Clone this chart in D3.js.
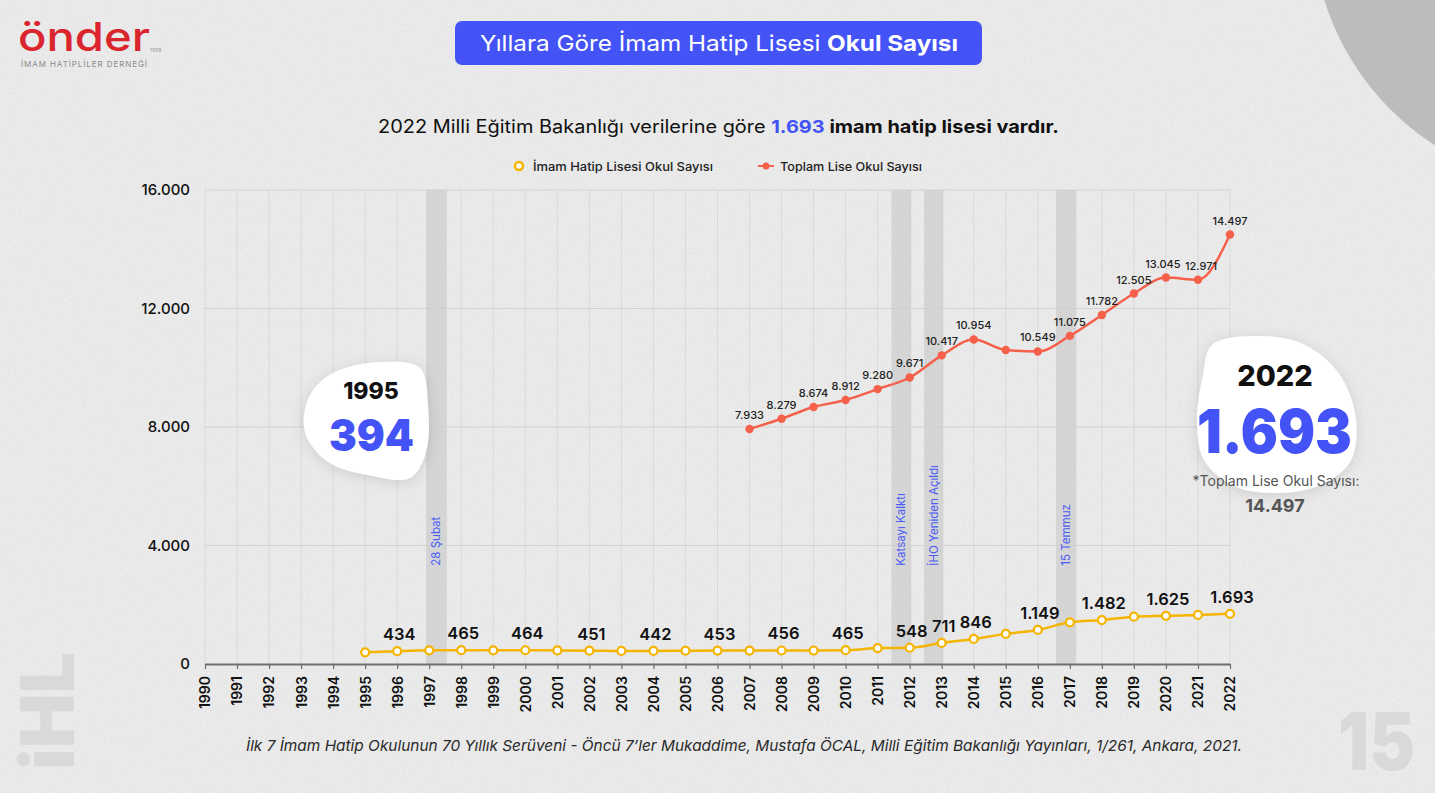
<!DOCTYPE html>
<html lang="tr">
<head>
<meta charset="utf-8">
<script src="https://cdn.jsdelivr.net/npm/d3@7"></script>
<style>
  html, body { margin: 0; padding: 0; background: #ececec; }
  svg { display: block; font-family: Inter, "Noto Sans", sans-serif; }
</style>
</head>
<body>
<div id="chart"></div>
<script>
var svgWidth = 1435;
var svgHeight = 793;

var margin = { top: 190, right: 205, bottom: 129, left: 205 };
var width = svgWidth - margin.left - margin.right;
var height = svgHeight - margin.top - margin.bottom;

// data
var years = d3.range(1990, 2023);
var yTicks = [0, 4000, 8000, 12000, 16000];

var ihlYears = [1995, 1996, 1997, 1998, 1999, 2000, 2001, 2002, 2003, 2004, 2005, 2006, 2007, 2008,
  2009, 2010, 2011, 2012, 2013, 2014, 2015, 2016, 2017, 2018, 2019, 2020, 2021, 2022];
var ihlValues = [394, 434, 462, 465, 463, 464, 458, 451, 440, 442, 448, 453, 452, 456,
  455, 465, 537, 548, 711, 846, 1017, 1149, 1408, 1482, 1597, 1625, 1655, 1693];
var ihlLabelYears = [1996, 1998, 2000, 2002, 2004, 2006, 2008, 2010, 2012, 2013, 2014, 2016, 2018, 2020, 2022];

var totalYears = [2007, 2008, 2009, 2010, 2011, 2012, 2013, 2014, 2015, 2016, 2017, 2018, 2019, 2020, 2021, 2022];
var totalValues = [7933, 8279, 8674, 8912, 9280, 9671, 10417, 10954, 10600, 10549, 11075, 11782, 12505, 13045, 12971, 14497];
var totalLabelYears = [2007, 2008, 2009, 2010, 2011, 2012, 2013, 2014, 2016, 2017, 2018, 2019, 2020, 2021, 2022];

var eventLabels = ["28 Şubat", "Katsayı Kalktı", "İHO Yeniden Açıldı", "15 Temmuz"];
var eventStart = [1996.9, 2011.43, 2012.45, 2016.57];
var eventEnd = [1997.55, 2012.05, 2013.05, 2017.2];

var blue = "#4353f5";
var yellow = "#f5b400";
var red = "#f4604a";

var tr = d3.formatLocale({ decimal: ",", thousands: ".", grouping: [3], currency: ["", ""] });
var fmt = tr.format(",d");

var svg = d3.select("#chart")
  .append("svg")
  .attr("width", svgWidth)
  .attr("height", svgHeight);

var defs = svg.append("defs");
var noise = defs.append("filter").attr("id", "noise").attr("x", 0).attr("y", 0).attr("width", "100%").attr("height", "100%");
noise.append("feTurbulence").attr("type", "fractalNoise").attr("baseFrequency", 0.7).attr("numOctaves", 2).attr("seed", 4);
noise.append("feColorMatrix").attr("type", "matrix")
  .attr("values", "0 0 0 0 0.45  0 0 0 0 0.45  0 0 0 0 0.45  0.3 0 0 0 -0.1");
var shadow = defs.append("filter").attr("id", "shadow").attr("x", "-30%").attr("y", "-30%").attr("width", "160%").attr("height", "160%");
shadow.append("feDropShadow").attr("dx", 0).attr("dy", 2).attr("stdDeviation", 7)
  .attr("flood-color", "#000").attr("flood-opacity", 0.12);

// background
svg.append("rect").attr("width", svgWidth).attr("height", svgHeight).attr("fill", "#ececec");
svg.append("rect").attr("width", svgWidth).attr("height", svgHeight).attr("filter", "url(#noise)");
svg.append("circle").attr("cx", 1580).attr("cy", -80).attr("r", 268).attr("fill", "#bcbcbc");

// faded corner marks
svg.append("text")
  .attr("transform", "translate(74,770) rotate(-90)")
  .attr("font-size", 74).attr("font-weight", 900).attr("fill", "#d9d9d9")
  .attr("textLength", 118).attr("lengthAdjust", "spacingAndGlyphs")
  .text("iHL");
svg.append("text")
  .attr("x", 1338).attr("y", 770)
  .attr("font-size", 80).attr("font-weight", 900).attr("fill", "#d9d9d9")
  .attr("textLength", 77).attr("lengthAdjust", "spacingAndGlyphs")
  .text("15");

// logo
svg.append("text")
  .attr("x", 18).attr("y", 51)
  .attr("font-size", 40).attr("font-weight", 500).attr("fill", "#d9252b")
  .attr("textLength", 132).attr("lengthAdjust", "spacingAndGlyphs")
  .text("önder");
svg.append("text")
  .attr("x", 150).attr("y", 52)
  .attr("font-size", 5).attr("fill", "#999")
  .text("1958");
svg.append("text")
  .attr("x", 21).attr("y", 67)
  .attr("font-size", 8).attr("fill", "#8a8a8a")
  .attr("textLength", 126).attr("lengthAdjust", "spacing")
  .text("İMAM HATİPLİLER DERNEĞİ");

// title banner
svg.append("rect")
  .attr("x", 455).attr("y", 21).attr("width", 527).attr("height", 44).attr("rx", 7)
  .attr("fill", blue);
var title = svg.append("text")
  .attr("x", 719).attr("y", 51)
  .attr("text-anchor", "middle")
  .attr("font-size", 22).attr("fill", "#fff")
  .attr("textLength", 478).attr("lengthAdjust", "spacingAndGlyphs");
title.append("tspan").attr("font-weight", 400).text("Yıllara Göre İmam Hatip Lisesi ");
title.append("tspan").attr("font-weight", 700).text("Okul Sayısı");

// subtitle
var sub = svg.append("text")
  .attr("x", 718.5).attr("y", 133)
  .attr("text-anchor", "middle")
  .attr("font-size", 18).attr("fill", "#111")
  .attr("textLength", 681).attr("lengthAdjust", "spacingAndGlyphs");
sub.append("tspan").attr("font-weight", 400).text("2022 Milli Eğitim Bakanlığı verilerine göre ");
sub.append("tspan").attr("font-weight", 700).attr("fill", blue).text("1.693");
sub.append("tspan").attr("font-weight", 700).text(" imam hatip lisesi vardır.");

// legend
var legend = svg.append("g").attr("font-size", 12).attr("font-weight", 500).attr("fill", "#222");
legend.append("circle").attr("cx", 519).attr("cy", 166).attr("r", 4)
  .attr("fill", "#fff").attr("stroke", yellow).attr("stroke-width", 2.5);
legend.append("text").attr("x", 533).attr("y", 170.5)
  .attr("textLength", 180).attr("lengthAdjust", "spacingAndGlyphs")
  .text("İmam Hatip Lisesi Okul Sayısı");
legend.append("line").attr("x1", 758).attr("x2", 774).attr("y1", 166).attr("y2", 166)
  .attr("stroke", red).attr("stroke-width", 2);
legend.append("circle").attr("cx", 766).attr("cy", 166).attr("r", 3.5).attr("fill", red);
legend.append("text").attr("x", 780).attr("y", 170.5)
  .attr("textLength", 142).attr("lengthAdjust", "spacingAndGlyphs")
  .text("Toplam Lise Okul Sayısı");

// chart group
var chartGroup = svg.append("g")
  .attr("transform", `translate(${margin.left}, ${margin.top})`);

var x = d3.scaleLinear().domain([1990, 2022]).range([0, width]);
var y = d3.scaleLinear().domain([0, 16000]).range([height, 0]);

// grid
chartGroup.append("g").selectAll("line")
  .data(years)
  .enter().append("line")
  .attr("x1", d => x(d)).attr("x2", d => x(d))
  .attr("y1", 0).attr("y2", height)
  .attr("stroke", "#d9d9d9").attr("stroke-width", 1);
chartGroup.append("g").selectAll("line")
  .data(yTicks.slice(1))
  .enter().append("line")
  .attr("x1", 0).attr("x2", width)
  .attr("y1", d => y(d)).attr("y2", d => y(d))
  .attr("stroke", "#d2d2d2").attr("stroke-width", 1);

// event bands
var events = eventLabels.map((t, i) => ({ label: t, start: eventStart[i], end: eventEnd[i] }));
chartGroup.append("g").selectAll("rect")
  .data(events)
  .enter().append("rect")
  .attr("x", d => x(d.start))
  .attr("width", d => x(d.end) - x(d.start))
  .attr("y", 0).attr("height", height)
  .attr("fill", "#cdcdcd").attr("opacity", 0.75);
chartGroup.append("g").selectAll("text")
  .data(events)
  .enter().append("text")
  .attr("transform", d => `translate(${(x(d.start) + x(d.end)) / 2 + 4}, ${y(3320)}) rotate(-90)`)
  .attr("font-size", 11.5).attr("fill", "#4a5cf5")
  .text(d => d.label);

// y axis
var leftAxis = d3.axisLeft(y).tickValues(yTicks).tickFormat(fmt).tickSize(0).tickPadding(15);
var yAxis = chartGroup.append("g").call(leftAxis);
yAxis.select(".domain").remove();
yAxis.selectAll("text")
  .attr("font-family", "Inter, sans-serif")
  .attr("font-size", 15).attr("font-weight", 500).attr("fill", "#111");

// x axis
var bottomAxis = d3.axisBottom(x).tickValues(years).tickFormat(d3.format("d")).tickSize(5).tickSizeOuter(0);
var xAxis = chartGroup.append("g")
  .attr("transform", `translate(0, ${height})`)
  .call(bottomAxis);
xAxis.select(".domain").attr("stroke", "#6e6e6e").attr("stroke-width", 2);
xAxis.selectAll(".tick line").attr("stroke", "#6e6e6e").attr("stroke-width", 1.2);
xAxis.selectAll("text")
  .attr("font-family", "Inter, sans-serif")
  .attr("font-size", 14).attr("font-weight", 600).attr("fill", "#111")
  .attr("text-anchor", "end")
  .attr("transform", "rotate(-90)")
  .attr("x", -12).attr("y", 0).attr("dy", "0.35em");

// callout blobs (decor behind lines)
var blob = d3.line().curve(d3.curveCatmullRomClosed.alpha(0.5));
var blob1995 = [[335, 372], [382, 362], [420, 368], [428, 405], [426, 452], [410, 478], [368, 475], [328, 462], [305, 432], [310, 395]];
var blob2022 = [[1212, 345], [1260, 336], [1305, 345], [1340, 375], [1356, 420], [1350, 462], [1318, 486], [1275, 493], [1234, 486], [1204, 460], [1197, 420], [1203, 375]];
svg.append("path").attr("d", blob(blob1995)).attr("fill", "#fff").attr("filter", "url(#shadow)");
svg.append("path").attr("d", blob(blob2022)).attr("fill", "#fff").attr("filter", "url(#shadow)");

// lines
var line = d3.line().x(d => x(d.year)).y(d => y(d.value)).curve(d3.curveMonotoneX);
var ihl = ihlYears.map((yr, i) => ({ year: yr, value: ihlValues[i] }));
var total = totalYears.map((yr, i) => ({ year: yr, value: totalValues[i] }));

chartGroup.append("path")
  .datum(total)
  .attr("d", line)
  .attr("fill", "none").attr("stroke", red).attr("stroke-width", 2.5);
chartGroup.append("g").selectAll("circle")
  .data(total)
  .enter().append("circle")
  .attr("cx", d => x(d.year)).attr("cy", d => y(d.value)).attr("r", 4.2)
  .attr("fill", red);
var labelShift = { 2020: -3, 2021: 3 };
chartGroup.append("g").selectAll("text")
  .data(total.filter(d => totalLabelYears.includes(d.year)))
  .enter().append("text")
  .attr("x", d => x(d.year) + (labelShift[d.year] || 0))
  .attr("y", d => y(d.value) - 10)
  .attr("text-anchor", "middle")
  .attr("font-size", 11).attr("font-weight", 500).attr("fill", "#222")
  .text(d => fmt(d.value));

chartGroup.append("path")
  .datum(ihl)
  .attr("d", line)
  .attr("fill", "none").attr("stroke", yellow).attr("stroke-width", 2.5);
chartGroup.append("g").selectAll("circle")
  .data(ihl)
  .enter().append("circle")
  .attr("cx", d => x(d.year)).attr("cy", d => y(d.value)).attr("r", 4)
  .attr("fill", "#fff").attr("stroke", yellow).attr("stroke-width", 2.2);
chartGroup.append("g").selectAll("text")
  .data(ihl.filter(d => ihlLabelYears.includes(d.year)))
  .enter().append("text")
  .attr("x", d => x(d.year) + 2)
  .attr("y", d => y(d.value) - 11)
  .attr("text-anchor", "middle")
  .attr("font-size", 16.5).attr("font-weight", 600).attr("fill", "#111")
  .text(d => fmt(d.value));

// callout texts
var first = ihl[0];
var last = ihl[ihl.length - 1];
svg.append("text").attr("x", 371).attr("y", 399).attr("text-anchor", "middle")
  .attr("font-size", 23).attr("font-weight", 800).attr("fill", "#111")
  .text(first.year);
svg.append("text").attr("x", 371.5).attr("y", 451).attr("text-anchor", "middle")
  .attr("font-size", 44).attr("font-weight", 900).attr("fill", blue)
  .attr("textLength", 85).attr("lengthAdjust", "spacingAndGlyphs")
  .text(fmt(first.value));
svg.append("text").attr("x", 1275).attr("y", 386).attr("text-anchor", "middle")
  .attr("font-size", 29).attr("font-weight", 800).attr("fill", "#111")
  .text(last.year);
svg.append("text").attr("x", 1274.5).attr("y", 453).attr("text-anchor", "middle")
  .attr("font-size", 61).attr("font-weight", 900).attr("fill", blue)
  .attr("textLength", 155).attr("lengthAdjust", "spacingAndGlyphs")
  .text(fmt(last.value));
svg.append("text").attr("x", 1276).attr("y", 486).attr("text-anchor", "middle")
  .attr("font-size", 14).attr("font-weight", 400).attr("fill", "#555")
  .text("*Toplam Lise Okul Sayısı:");
svg.append("text").attr("x", 1275).attr("y", 512).attr("text-anchor", "middle")
  .attr("font-size", 18).attr("font-weight", 700).attr("fill", "#555")
  .text(fmt(totalValues[totalValues.length - 1]));

// source
svg.append("text")
  .attr("x", 744).attr("y", 751).attr("text-anchor", "middle")
  .attr("font-size", 15).attr("font-style", "italic").attr("fill", "#2a2a2a")
  .attr("textLength", 996).attr("lengthAdjust", "spacingAndGlyphs")
  .text("İlk 7 İmam Hatip Okulunun 70 Yıllık Serüveni - Öncü 7’ler Mukaddime, Mustafa ÖCAL, Milli Eğitim Bakanlığı Yayınları, 1/261, Ankara, 2021.");
</script>
</body>
</html>
